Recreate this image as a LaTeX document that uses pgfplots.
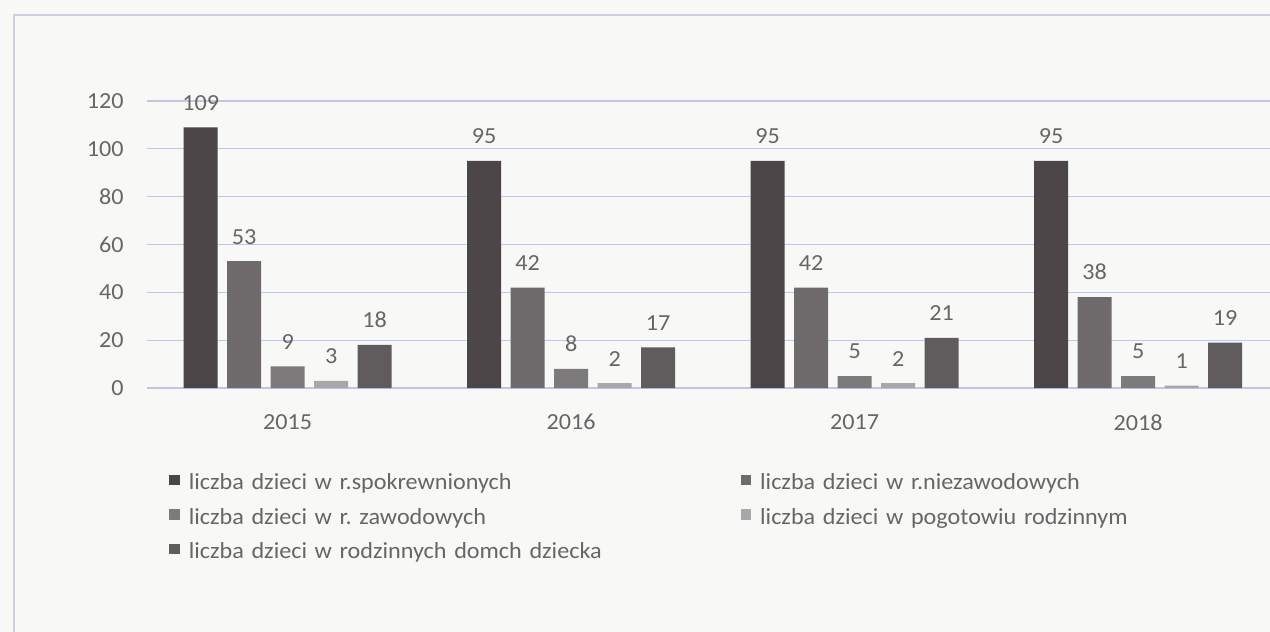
\documentclass[border=0pt]{standalone}
\usepackage{pgfplots}
\pgfplotsset{compat=1.18}
\usepackage{fontspec}
\setmainfont{Carlito}[FakeStretch=1.05]
\definecolor{bg}{HTML}{F8F8F6}
\definecolor{gridc}{HTML}{C2C6DE}
\definecolor{framec}{HTML}{CDD0E4}
\definecolor{txt}{HTML}{666666}
\definecolor{sA}{HTML}{4C4648}
\definecolor{sB}{HTML}{6F6B6D}
\definecolor{sC}{HTML}{7D7A7C}
\definecolor{sD}{HTML}{A8A8A8}
\definecolor{sE}{HTML}{605C5E}
\frenchspacing
\begin{document}
\begin{tikzpicture}
\useasboundingbox (0,0) rectangle (635pt,316pt);
\fill[bg] (0,0) rectangle (635pt,316pt);
\draw[framec, line width=0.6pt] (7pt,-2pt) -- (7pt,308.5pt) -- (640pt,308.5pt);
\begin{axis}[
  at={(73.5pt,122pt)}, anchor=south west,
  scale only axis, width=561.5pt, height=143.5pt,
  xmin=-0.496, xmax=3.465, ymin=0, ymax=120,
  enlargelimits=false, clip=false,
  ybar=4.75pt, bar width=17pt,
  axis line style={draw=none},
  major tick length=0pt,
  ymajorgrids, grid style={gridc, line width=0.6pt},
  ytick={0,20,...,120},
  xtick={0,1,2,3}, xticklabels={2015,2016,2017,2018},
  /pgf/number format/assume math mode=true,
  tick label style={font=\fontsize{11.5}{13}\selectfont, color=txt},
  yticklabel style={xshift=-8.2pt},
  xticklabel style={yshift=-9.7pt},
  nodes near coords,
  every node near coord/.append style={font=\fontsize{11.5}{13}\selectfont, color=txt, yshift=5pt},
  legend columns=2,
  legend style={at={(0.0196,-0.301)}, anchor=north west, draw=none, fill=none,
    inner sep=0pt, row sep=7.75pt,
    font=\fontsize{11.5}{13}\selectfont, text=txt,
    nodes={inner sep=0pt, text height=7.5pt, text depth=2pt, text width=276pt, align=left},
    /tikz/every odd column/.append style={column sep=4.5pt}},
  legend image code/.code={\fill[#1] (0pt,-0.5pt) rectangle (5.2pt,4.7pt);},
]
\addplot[fill=sA, draw=none] coordinates {(0,109) (1,95) (2,95) (3,95)};
\addplot[fill=sB, draw=none] coordinates {(0,53) (1,42) (2,42) (3,38)};
\addplot[fill=sC, draw=none] coordinates {(0,9) (1,8) (2,5) (3,5)};
\addplot[fill=sD, draw=none] coordinates {(0,3) (1,2) (2,2) (3,1)};
\addplot[fill=sE, draw=none] coordinates {(0,18) (1,17) (2,21) (3,19)};
\legend{liczba dzieci w r.spokrewnionych, liczba dzieci w r.niezawodowych, liczba dzieci w r. zawodowych, liczba dzieci w pogotowiu rodzinnym, liczba dzieci w rodzinnych domch dziecka}
\end{axis}
\end{tikzpicture}
\end{document}
